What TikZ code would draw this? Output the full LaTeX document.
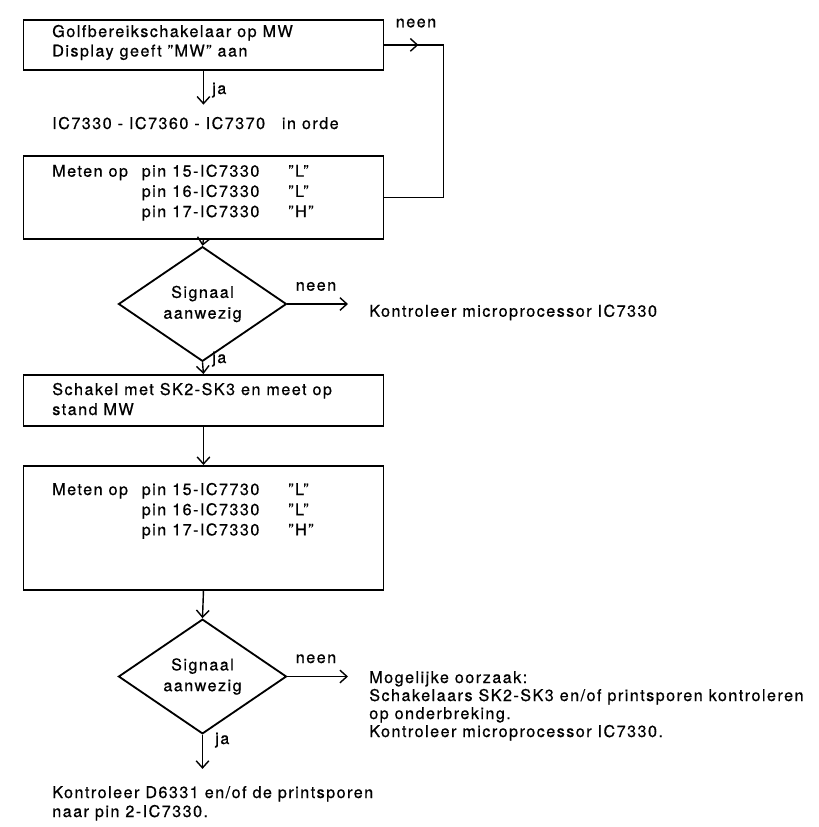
\documentclass[tikz,border=0pt]{standalone}
\usepackage{fontspec}
\setmainfont[LetterSpace=9,FakeBold=0.6]{TeX Gyre Heros}
\usetikzlibrary{shapes.geometric,arrows.meta}

\tikzset{
  lijn/.style={line width=1pt},
  pijl/.style={lijn,-{Straight Barb[length=5pt,width=9pt]}},
  blok/.style={draw,line width=1.3pt,anchor=north west,minimum width=9cm,inner sep=0pt},
  ruit/.style={draw,diamond,line width=1.3pt,minimum width=4.2cm,inner sep=0pt,align=center,font=\fontsize{11.5}{14.8}\selectfont},
  tekst/.style={anchor=base west,inner sep=0pt},
  label/.style={anchor=base,inner sep=0pt}
}

\begin{document}
\begin{tikzpicture}[x=0.025cm,y=-0.025cm,font=\fontsize{11.5}{14}\selectfont]
\useasboundingbox (0,0) rectangle (819,827);
% eerste blok
\node[blok,minimum height=1.25cm] (golf) at (22.5,19) {};
\node[tekst] at (52,37) {Golfbereikschakelaar op MW};
\node[tekst] at (52,56.5) {Display geeft ''MW'' aan};
\node[tekst] (inorde) at (52,129) {IC7330 - IC7360 - IC7370\hspace{12pt}in orde};
% meting 1
\node[blok,minimum height=2.075cm] (meet1) at (22.5,155) {};
\node[tekst] at (52,176.7) {Meten op};
\foreach \n/\pin/\niv in {0/15-IC7330/L,1/16-IC7330/L,2/17-IC7330/H} % edit here for the rows
{\node[tekst] at (141.5,176.7+20.2*\n) {pin \pin};
 \node[tekst] at (288,176.7+20.2*\n) {''\niv''};}
\node[ruit,minimum height=2.05cm] (sig1) at (202.5,304) {Signaal\\aanwezig};
\node[tekst] (kmp) at (369,316.7) {Kontroleer microprocessor IC7330};
% meting 2
\node[blok,minimum height=1.275cm] (schak) at (22.5,374) {};
\node[tekst] at (52,395) {Schakel met SK2-SK3 en meet op};
\node[tekst] at (52,415) {stand MW};
\node[blok,minimum height=3.1cm] (meet2) at (22.5,465) {};
\node[tekst] at (52,495) {Meten op};
\foreach \n/\pin/\niv in {0/15-IC7730/L,1/16-IC7330/L,2/17-IC7330/H}
{\node[tekst] at (141.5,495+20.2*\n) {pin \pin};
 \node[tekst] at (288,495+20.2*\n) {''\niv''};}
\node[ruit,minimum height=2.175cm] (sig2) at (202.5,676.5) {Signaal\\aanwezig};
\foreach \n/\regel in {0/{Mogelijke oorzaak:},1/{Schakelaars SK2-SK3 en/of printsporen kontroleren},2/{op onderbreking.},3/{Kontroleer microprocessor IC7330.}}
\node[tekst] (oorz\n) at (369,683+18*\n) {\regel};
\foreach \n/\regel in {0/{Kontroleer D6331 en/of de printsporen},1/{naar pin 2-IC7330.}}
\node[tekst] (eind\n) at (52,798+19*\n) {\regel};
% verbindingen
\draw[pijl,shorten >=0.3cm] (golf.south) -- (golf.south |- inorde.north);
\draw[pijl] (golf.east) -- ++(34,0);
\draw[lijn] (golf.east) -- ++(59,0) |- (meet1.east);
\draw[pijl] (meet1.south) -- (sig1.north);
\draw[pijl,shorten >=0.525cm] (sig1.east) -- (sig1.east -| kmp.west);
\draw[pijl] (sig1.south) -- (schak.north);
\draw[pijl] (schak.south) -- (meet2.north);
\draw[pijl] (meet2.south) -- (sig2.north);
\draw[pijl,shorten >=0.525cm] (sig2.east) -- (sig2.east -| oorz0.west);
\draw[pijl,shorten >=0.425cm] (sig2.south) -- (sig2.south |- eind0.north);
% ja / neen
\node[label] at (416,27.3) {neen};
\node[label] at (316,290.7) {neen};
\node[label] at (316,663) {neen};
\foreach \y in {94,363}
\node[tekst] at (212,\y) {ja};
\node[tekst] at (215,744) {ja};
\end{tikzpicture}
\end{document}
